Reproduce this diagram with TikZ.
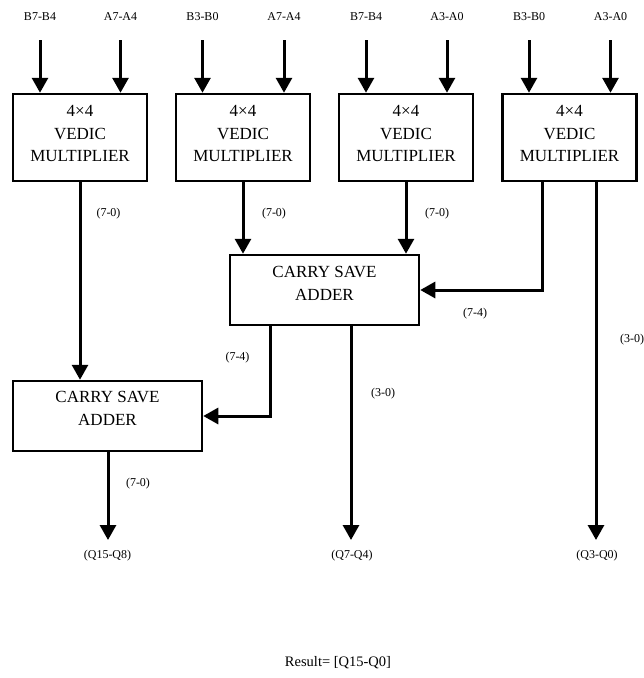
\documentclass[tikz,border=0pt]{standalone}
\usepackage{fontspec}
\setmainfont{Liberation Serif}
\usetikzlibrary{arrows.meta}
\begin{document}
\begin{tikzpicture}[x=1pt,y=-1pt,
  vmbox/.style={draw, line width=2.5pt, minimum width=134pt, minimum height=87pt, inner sep=0pt},
  csabox/.style={draw, line width=2.5pt, minimum width=189pt, minimum height=70pt, inner sep=0pt},
  boxtxt/.style={font=\fontsize{17}{22.5}\selectfont, align=center, inner sep=0pt},
  lbl/.style={font=\fontsize{12}{14}\selectfont, inner sep=0pt},
  arr/.style={line width=3pt, -{Triangle[width=16pt,length=15pt]}},
  wire/.style={line width=3pt}
]
\useasboundingbox[fill=white] (0,0) rectangle (644,678);

% multiplier boxes
\node[vmbox] (vm1) at (80,137.5) {};
\node[vmbox] (vm2) at (243,137.5) {};
\node[vmbox] (vm3) at (406,137.5) {};
\node[vmbox] (vm4) at (569.5,137.5) {};
\node[boxtxt] (vm1t) at (80,133.5) {4×4\\VEDIC\\MULTIPLIER};
\node[boxtxt] (vm2t) at (243,133.5) {4×4\\VEDIC\\MULTIPLIER};
\node[boxtxt] (vm3t) at (406,133.5) {4×4\\VEDIC\\MULTIPLIER};
\node[boxtxt] (vm4t) at (569.5,133.5) {4×4\\VEDIC\\MULTIPLIER};

% carry save adders
\node[csabox] (csa1) at (324.5,290) {};
\node[boxtxt] (csa1t) at (324.5,283.5) {CARRY SAVE\\ADDER};
\node[csabox] (csa2) at (107.5,416) {};
\node[boxtxt] (csa2t) at (107.5,408.5) {CARRY SAVE\\ADDER};

% input labels
\node[lbl] (i1) at (40,17) {B7-B4};
\node[lbl] (i2) at (120.5,17) {A7-A4};
\node[lbl] (i3) at (202.5,17) {B3-B0};
\node[lbl] (i4) at (284,17) {A7-A4};
\node[lbl] (i5) at (366,17) {B7-B4};
\node[lbl] (i6) at (447,17) {A3-A0};
\node[lbl] (i7) at (529,17) {B3-B0};
\node[lbl] (i8) at (610.5,17) {A3-A0};

\draw[arr] ([yshift=-23pt]i1.center) -- (i1.center |- vm1.north);
\draw[arr] ([yshift=-23pt]i2.center) -- (i2.center |- vm1.north);
\draw[arr] ([yshift=-23pt]i3.center) -- (i3.center |- vm2.north);
\draw[arr] ([yshift=-23pt]i4.center) -- (i4.center |- vm2.north);
\draw[arr] ([yshift=-23pt]i5.center) -- (i5.center |- vm3.north);
\draw[arr] ([yshift=-23pt]i6.center) -- (i6.center |- vm3.north);
\draw[arr] ([yshift=-23pt]i7.center) -- (i7.center |- vm4.north);
\draw[arr] ([yshift=-23pt]i8.center) -- (i8.center |- vm4.north);

% output tips
\coordinate (t1) at (108,540);
\coordinate (t2) at (351,540);
\coordinate (t3) at (596,540);

% connections
\draw[arr] (vm1.south) -- (vm1.south |- csa2.north);
\draw[arr] (vm2.south) -- (vm2.south |- csa1.north);
\draw[arr] (vm3.south) -- (vm3.south |- csa1.north);
\draw[arr] ([xshift=-27.5pt]vm4.south) |- (csa1.east);
\draw[arr] (vm4.south -| t3) -- (t3);
\draw[arr] ([xshift=-54.5pt]csa1.south) |- (csa2.east);
\draw[arr] (csa1.south -| t2) -- (t2);
\draw[arr] (csa2.south -| t1) -- (t1);

% bit-range labels
\node[lbl] (l1) at (108.5,214) {(7-0)};
\node[lbl] (l2) at (274,214) {(7-0)};
\node[lbl] (l3) at (437,214) {(7-0)};
\node[lbl] (l4) at (475,314) {(7-4)};
\node[lbl] (l5) at (632,340) {(3-0)};
\node[lbl] (l6) at (237.5,358) {(7-4)};
\node[lbl] (l7) at (383,394) {(3-0)};
\node[lbl] (l8) at (138,484) {(7-0)};

% outputs
\node[lbl] (q1) at (107.5,556) {(Q15-Q8)};
\node[lbl] (q2) at (352,556) {(Q7-Q4)};
\node[lbl] (q3) at (597,556) {(Q3-Q0)};

\node[font=\fontsize{14.5}{17}\selectfont, inner sep=0pt] (res) at (338,663) {Result= [Q15-Q0]};
\end{tikzpicture}
\end{document}
